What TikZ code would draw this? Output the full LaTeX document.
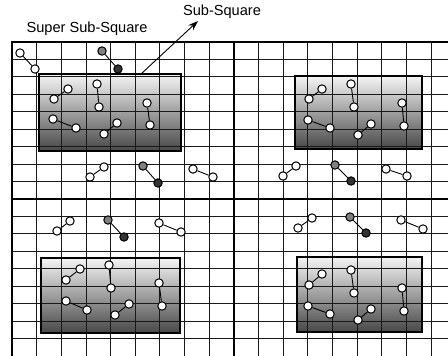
\documentclass[tikz,border=0pt]{standalone}
\usepackage{fontspec}
\setmainfont{Liberation Sans}
\usetikzlibrary{arrows.meta}
\tikzset{
  wc/.style={circle,draw=black,fill=white,line width=1pt,minimum size=8.4pt,inner sep=0pt},
  gc/.style={wc,fill=black!50},
  dc/.style={wc,fill=black!80},
  link/.style={draw=black,line width=0.9pt},
  gridline/.style={draw=black!90,line width=0.9pt},
  thickline/.style={draw=black,line width=1.8pt},
  subbox/.style={top color=black!4,bottom color=black!72,draw=none},
  subborder/.style={draw=black,line width=1.8pt},
  lbl/.style={font=\fontsize{14.6}{18}\selectfont,inner sep=0pt}
}
\begin{document}
\begin{tikzpicture}[x=1pt,y=-1pt]
\useasboundingbox (0,0) rectangle (448,356);
\fill[white] (0,0) rectangle (448,356);
% sub-square fills
\path[subbox] (39,74) rectangle (181,151);
\path[subbox] (295,76) rectangle (422,149);
\path[subbox] (41,258) rectangle (180,333);
\path[subbox] (297,257) rectangle (422,332);
% grid
\foreach \i in {1,...,17} { \draw[gridline] ({12+24.65*\i},42) -- ({12+24.65*\i},356); }
\foreach \j in {1,...,17} { \draw[gridline] (12,{42+17.44*\j}) -- (448,{42+17.44*\j}); }
\draw[thickline] (12,356) -- (12,42) -- (448,42);
\draw[thickline] ({12+24.65*9},42) -- ({12+24.65*9},356);
\draw[thickline] (12,{42+17.44*9}) -- (448,{42+17.44*9});
% sub-square borders
\node[subborder,minimum width=142pt,minimum height=77pt,inner sep=0pt] (b1) at (110,112.5) {};
\node[subborder,minimum width=127pt,minimum height=73pt,inner sep=0pt] (b2) at (358.5,112.5) {};
\node[subborder,minimum width=139pt,minimum height=75pt,inner sep=0pt] (b3) at (110.5,295.5) {};
\node[subborder,minimum width=125pt,minimum height=75pt,inner sep=0pt] (b4) at (359.5,294.5) {};
% labels
\node[lbl] (super) at (87,29) {Super Sub-Square};
\node[lbl] (sub) at (222,12) {Sub-Square};
\coordinate (arrs) at (141,74);
\coordinate (arre) at (198,21);
\draw[line width=0.9pt,-{Stealth[length=10pt,width=7pt]}] (arrs) -- (arre);
% white pairs
\foreach \n/\ax/\ay/\bx/\by in {
  p1/20/53/35/69,
  p2/54/99/68/89, p3/97/84/99/107, p4/147/103/150/125, p5/53/119/76/128, p6/104/134/117/123,
  p7/90/177/104/167, p8/193/169/213/177,
  q2/309/99/322/89, q3/351/84/354/107, q4/402/103/404/126, q5/308/120/330/128, q6/358/135/371/124,
  q7/283/176/296/166, q8/386/169/407/176,
  r1/57/231/70/221, r3/159/223/181/232,
  r4/66/280/80/269, r5/109/265/111/288, r6/159/283/162/306, r7/66/301/87/310, r8/115/315/129/304,
  s1/298/228/312/218, s3/401/220/423/229,
  s4/309/285/322/274, s5/351/270/354/293, s6/402/288/404/311, s7/308/306/330/314, s8/358/320/371/309}
{
  \node[wc] (\n a) at (\ax,\ay) {};
  \node[wc] (\n b) at (\bx,\by) {};
  \draw[link] (\n a) -- (\n b);
}
% grey/dark pairs
\foreach \n/\ax/\ay/\bx/\by in {
  g1/102/51/118/69, g2/143/166/158/183, g3/335/165/351/181,
  g4/108/220/124/237, g5/350/217/366/233}
{
  \node[gc] (\n a) at (\ax,\ay) {};
  \node[dc] (\n b) at (\bx,\by) {};
  \draw[link] (\n a) -- (\n b);
}
\end{tikzpicture}
\end{document}
